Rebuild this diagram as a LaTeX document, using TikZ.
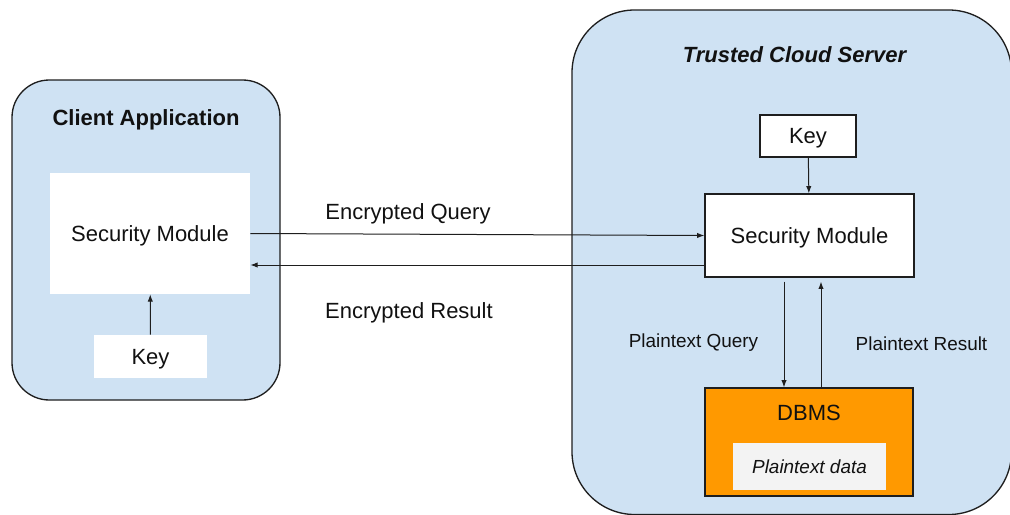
\documentclass[tikz,border=0pt]{standalone}
\usepackage{fontspec}
\setmainfont{Liberation Sans}
\usetikzlibrary{arrows.meta,calc}
\definecolor{panel}{HTML}{CFE2F3}
\definecolor{dbmsfill}{HTML}{FF9900}
\definecolor{datafill}{HTML}{F3F3F3}
\definecolor{edge}{HTML}{1E1E1E}
\definecolor{ink}{HTML}{111111}

\begin{document}
\begin{tikzpicture}[x=0.75pt,y=-0.75pt,
  panelbox/.style={draw=edge, line width=1pt, fill=panel},
  bigfont/.style={font=\fontsize{16.5}{20}\selectfont, text=ink},
  smallfont/.style={font=\fontsize{14.2}{17}\selectfont, text=ink},
  boxed/.style={inner sep=0pt, text height=11.8pt, text depth=0pt, bigfont},
  plainbox/.style={boxed, fill=white},
  framedbox/.style={boxed, fill=white, draw=edge, line width=0.9pt},
  caption/.style={inner sep=0pt, anchor=base},
  link/.style={draw=edge, line width=0.75pt, -{Latex[length=5.5pt,width=4pt]}}
]
\useasboundingbox (0,0) rectangle (1010,514);

% the two panels
\draw[panelbox, rounded corners=28pt] (12,80) rectangle (280,400);
\draw[panelbox, rounded corners=47pt] (572,10) rectangle (1011.5,514.5);

% client side
\node[caption, bigfont, font=\fontsize{16.5}{20}\selectfont\bfseries] (ctitle) at (146,125) {Client Application};
\node[plainbox, minimum width=150pt, minimum height=90.75pt] (csm) at (150,233.5) {Security Module};
\node[plainbox, minimum width=84.75pt, minimum height=32.25pt] (ckey) at (150.5,356.5) {Key};

% server side
\node[caption, bigfont, font=\fontsize{16.5}{20}\selectfont\bfseries\itshape] (stitle) at (794.5,62.5) {Trusted Cloud Server};
\node[framedbox, minimum width=72pt, minimum height=31.5pt] (skey) at (808,136) {Key};
\node[framedbox, minimum width=156.75pt, minimum height=62.25pt] (ssm) at (809.5,235.5) {Security Module};
\node[boxed, fill=dbmsfill, draw=edge, line width=0.9pt, minimum width=156pt, minimum height=81pt] (dbms) at (809,442) {};
\node[caption, bigfont] (dbmslabel) at (809,420) {DBMS};
\node[boxed, smallfont, text height=10.2pt, fill=datafill, minimum width=114.75pt, minimum height=35.25pt] (data) at (809.5,466.5) {\itshape Plaintext data};

% connectors
\draw[link] (ckey) -- (csm);
\draw[link] (skey) -- (ssm);
\draw[link] (csm.east) -- (ssm.west);
\draw[link] ($(ssm.west)+(0,29.5)$) -- ($(csm.east)+(0,31.5)$);
\draw[link] ($(ssm.south)+(-25.5,4)$) -- ($(dbms.north)+(-25,0)$);
\draw[link] ($(dbms.north)+(12,0)$) -- ($(ssm.south)+(11.5,4)$);

% connector labels
\node[caption, bigfont] (eq) at (408,219.5) {Encrypted Query};
\node[caption, bigfont] (er) at (409,318) {Encrypted Result};
\node[caption, smallfont] (pq) at (693.5,347.5) {Plaintext Query};
\node[caption, smallfont] (pr) at (921.5,350) {Plaintext Result};
\end{tikzpicture}
\end{document}
